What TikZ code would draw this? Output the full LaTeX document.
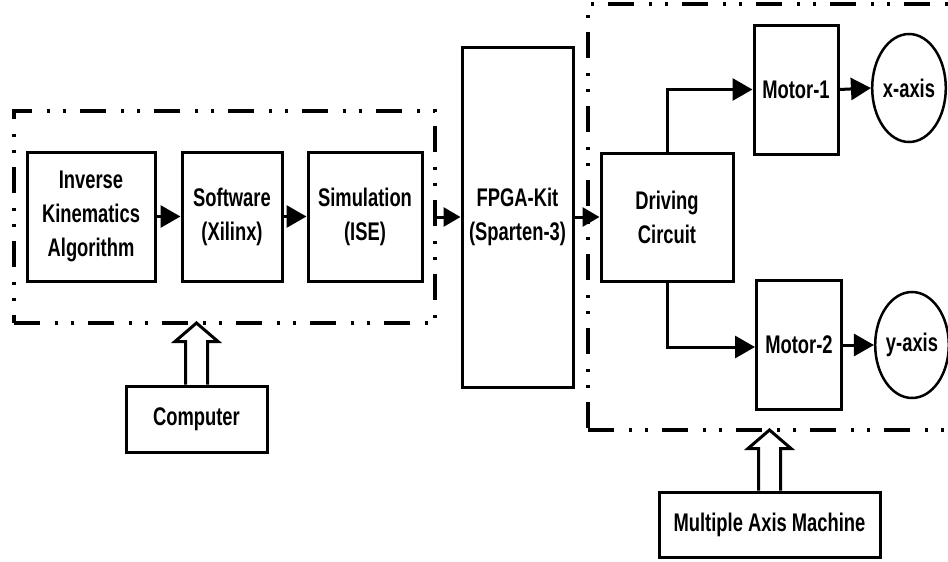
\documentclass[tikz,border=0pt]{standalone}
\usepackage{fontspec}
\setmainfont{Liberation Sans}[FakeStretch=0.72]
\usetikzlibrary{arrows.meta,calc,shapes.geometric}
\begin{document}
\begin{tikzpicture}[x=1pt,y=-1pt,
  lbl/.style={font=\fontsize{25.5}{34}\selectfont\bfseries},
  box/.style={draw, line width=3pt, rectangle, inner sep=0pt, align=center, lbl},
  oval/.style={draw, line width=2.5pt, ellipse, inner sep=0pt, minimum width=70pt, minimum height=108pt, lbl},
  conn/.style={line width=3pt, -{Triangle[length=20pt,width=22pt]}},
  sconn/.style={line width=3pt, -{Triangle[length=17pt,width=19pt]}},
  frame/.style={draw, line width=3.5pt, outer sep=0pt, inner sep=0pt, dash pattern=on 26pt off 14.5pt on 3pt off 13pt on 3pt off 14.5pt},
  hollow/.style={draw, line width=3pt, fill=white, line join=miter}]
\useasboundingbox (0,0) rectangle (948,562);
\clip (0,0) rectangle (948,562);
\fill[white] (0,0) rectangle (948,562);

% frames
\node[frame, minimum width=421pt, minimum height=212pt] (pc) at (224.5,217) {};
\node[frame, minimum width=402pt, minimum height=426pt] (rf) at (789,217) {};

% blocks
\node[box, minimum width=128pt, minimum height=129pt] (inv) at (91,216.5) {Inverse\\Kinematics\\Algorithm};
\node[box, minimum width=100pt, minimum height=129pt] (sw) at (232,216.5) {Software\\(Xilinx)};
\node[box, minimum width=114pt, minimum height=129pt] (sim) at (365,216.5) {Simulation\\(ISE)};
\node[box, minimum width=111pt, minimum height=340pt] (fpga) at (517.5,217) {FPGA-Kit\\(Sparten-3)};
\node[box, minimum width=132pt, minimum height=128pt] (drv) at (667,217) {Driving\\Circuit};
\node[box, minimum width=84pt, minimum height=129pt] (m1) at (796,89.5) {Motor-1};
\node[box, minimum width=85pt, minimum height=129pt] (m2) at (799,344.5) {Motor-2};
\node[oval] (xa) at (909,88) {x-axis};
\node[oval, minimum height=106pt] (ya) at (912,345) {y-axis};
\node[box, minimum width=141pt, minimum height=66pt] (comp) at (196.5,419) {Computer};
\node[box, minimum width=221pt, minimum height=65pt] (mam) at (769.5,524.5) {Multiple Axis Machine};

% connectors
\draw[conn] (inv.east) -- (sw.west);
\draw[conn] (sw.west -| sw.east) -- (sim.west);
\draw[sconn] (pc.east |- fpga.west) -- (fpga.west);
\draw[sconn] (fpga.east) -- (drv.west);
\draw[conn] (drv.north) |- (m1.west);
\draw[conn] (drv.south) |- ($(m2.west)+(0,2.5)$);
\draw[conn] (m1.east) -- (xa.west);
\draw[conn] ($(m2.east)+(0,0.5)$) -- (ya.west);

% hollow arrows
\draw[hollow] ($(comp.north)+(-11,0)$) -- ++(0,-43) -- ++(-10.5,0)
  -- (comp.north |- pc.south) -- ($(comp.north)+(21.5,-43)$) -- ++(-10.5,0)
  -- ($(comp.north)+(11,0)$);
\draw[hollow] ($(mam.north)+(-11,0)$) -- ++(0,-42) -- ++(-10.5,0)
  -- (mam.north |- rf.south) -- ($(mam.north)+(21.5,-42)$) -- ++(-10.5,0)
  -- ($(mam.north)+(11,0)$);
\end{tikzpicture}
\end{document}
